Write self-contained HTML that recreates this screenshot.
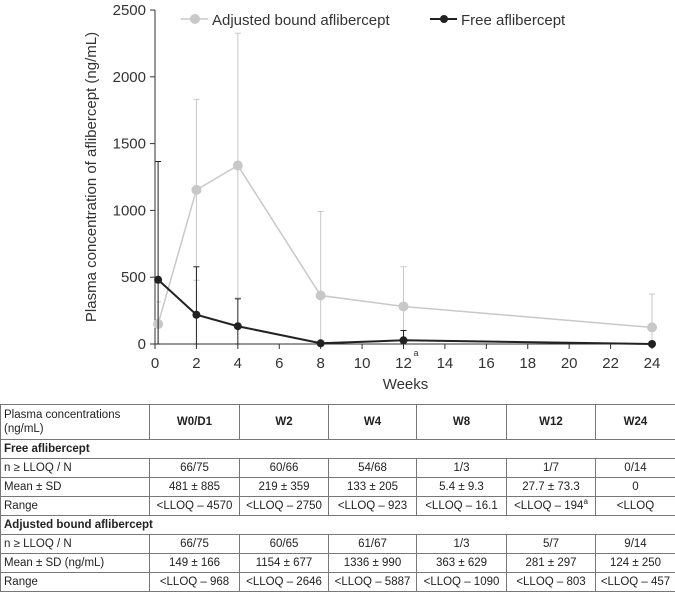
<!DOCTYPE html>
<html><head><meta charset="utf-8"><style>
body{margin:0;background:#fff;width:675px;height:594px;overflow:hidden;font-family:"Liberation Sans",sans-serif}
svg text{font-family:"Liberation Sans",sans-serif}
table{position:absolute;left:0px;top:404px;width:675px;table-layout:fixed;border-collapse:collapse;font-size:11.5px;color:#222}
td{border:1px solid #777;height:18px;line-height:14px;padding:0 2px;text-align:center;white-space:nowrap;overflow:hidden}
td.l{text-align:left;padding-left:3px}
th{border:1px solid #777;font-weight:bold;height:34px;line-height:14px;padding:0}
</style></head><body>
<svg id="chart" width="675" height="400" style="position:absolute;left:0;top:0"></svg>
<table>
<colgroup><col style="width:149px"><col style="width:90px"><col style="width:89px"><col style="width:88px"><col style="width:90px"><col style="width:89px"><col style="width:80px"></colgroup>
<tr><th style="text-align:left;font-weight:normal;padding:0 3px">Plasma concentrations<br>(ng/mL)</th><th>W0/D1</th><th>W2</th><th>W4</th><th>W8</th><th>W12</th><th>W24</th></tr>
<tr><td class="l" colspan="7"><b>Free aflibercept</b></td></tr>
<tr><td class="l">n ≥ LLOQ / N</td><td>66/75</td><td>60/66</td><td>54/68</td><td>1/3</td><td>1/7</td><td>0/14</td></tr>
<tr><td class="l">Mean ± SD</td><td>481 ± 885</td><td>219 ± 359</td><td>133 ± 205</td><td>5.4 ± 9.3</td><td>27.7 ± 73.3</td><td>0</td></tr>
<tr><td class="l">Range</td><td>&lt;LLOQ – 4570</td><td>&lt;LLOQ – 2750</td><td>&lt;LLOQ – 923</td><td>&lt;LLOQ – 16.1</td><td>&lt;LLOQ – 194<sup style="font-size:8px;line-height:0">a</sup></td><td>&lt;LLOQ</td></tr>
<tr><td class="l" colspan="7"><b>Adjusted bound aflibercept</b></td></tr>
<tr><td class="l">n ≥ LLOQ / N</td><td>66/75</td><td>60/65</td><td>61/67</td><td>1/3</td><td>5/7</td><td>9/14</td></tr>
<tr><td class="l">Mean ± SD (ng/mL)</td><td>149 ± 166</td><td>1154 ± 677</td><td>1336 ± 990</td><td>363 ± 629</td><td>281 ± 297</td><td>124 ± 250</td></tr>
<tr><td class="l">Range</td><td>&lt;LLOQ – 968</td><td>&lt;LLOQ – 2646</td><td>&lt;LLOQ – 5887</td><td>&lt;LLOQ – 1090</td><td>&lt;LLOQ – 803</td><td>&lt;LLOQ – 457</td></tr>
</table>
<script>
const weeks=[0.15,2,4,8,12,24];
const boundMean=[149,1154,1336,363,281,124];
const boundSD=[166,677,990,629,297,250];
const freeMean=[481,219,133,5.4,27.7,0];
const freeSD=[885,359,205,9.3,73.3,0];
const xTicks=[0,2,4,6,8,10,12,14,16,18,20,22,24];
const yTicks=[0,500,1000,1500,2000,2500];
const NS='http://www.w3.org/2000/svg';
const svg=document.getElementById('chart');
const x0=155,x1=652,y0=344,y1=10;
const X=v=>x0+v/24*(x1-x0);
const Y=v=>y0-v/2500*(y0-y1);
function mk(t,a,p){const e=document.createElementNS(NS,t);for(const k in a)e.setAttribute(k,a[k]);(p||svg).appendChild(e);return e;}
let ax=mk('line',{x1:x0,y1:y1,x2:x0,y2:y0,stroke:'#333','stroke-width':1});


let bx=mk('line',{x1:x0,y1:y0,x2:x1+3,y2:y0,stroke:'#333','stroke-width':1});


yTicks.forEach(v=>{mk('line',{x1:x0-5,x2:x0,y1:Y(v),y2:Y(v),stroke:'#333'});
 const t=mk('text',{x:x0-9,y:Y(v)+5,'text-anchor':'end','font-size':15,fill:'#333'});t.textContent=v;
 
 });
xTicks.forEach(v=>{mk('line',{x1:X(v),x2:X(v),y1:y0,y2:y0+5,stroke:'#333'});
 const t=mk('text',{x:X(v),y:y0+24,'text-anchor':'middle','font-size':15,fill:'#333'});t.textContent=v;
 
 });
const sup=mk('text',{x:X(12)+10,y:y0+12,'font-size':9,fill:'#333'});sup.textContent='a';


const xt=mk('text',{x:X(12)+2,y:y0+45,'text-anchor':'middle','font-size':15,fill:'#333'});xt.textContent='Weeks';


const yt=mk('text',{x:0,y:0,transform:'translate(96,177) rotate(-90)','text-anchor':'middle','font-size':15,fill:'#333'});yt.textContent='Plasma concentration of aflibercept (ng/mL)';


function series(mean,sd,col,r,name){
 const g=mk('g',{});
 
 
 mean.forEach((m,i)=>{const hi=m+sd[i],lo=Math.max(0,m-sd[i]);
  if(sd[i]>0){mk('line',{x1:X(weeks[i]),x2:X(weeks[i]),y1:Y(hi),y2:Y(lo),stroke:col,'stroke-width':1},g);
  mk('line',{x1:X(weeks[i])-3,x2:X(weeks[i])+3,y1:Y(hi),y2:Y(hi),stroke:col},g);
  mk('line',{x1:X(weeks[i])-3,x2:X(weeks[i])+3,y1:Y(lo),y2:Y(lo),stroke:col},g);}});
 mk('polyline',{points:mean.map((m,i)=>X(weeks[i])+','+Y(m)).join(' '),fill:'none',stroke:col,'stroke-width':r>4?1.5:2},g);
 mean.forEach((m,i)=>{const c=mk('circle',{cx:X(weeks[i]),cy:Y(m),r:r,fill:col},g);
  
  });
}
series(boundMean,boundSD,'#c8c8c8',5,'bound-series');
series(freeMean,freeSD,'#222',4,'free-series');
const lg=mk('g',{});


mk('line',{x1:181,x2:208,y1:19,y2:19,stroke:'#c8c8c8','stroke-width':1.5},lg);
mk('circle',{cx:195,cy:19,r:5,fill:'#c8c8c8'},lg);
let l1=mk('text',{x:212,y:25,'font-size':15,fill:'#333'},lg);l1.textContent='Adjusted bound aflibercept';
mk('line',{x1:430,x2:457,y1:19,y2:19,stroke:'#222','stroke-width':2},lg);
mk('circle',{cx:444,cy:19,r:4,fill:'#222'},lg);
let l2=mk('text',{x:461,y:25,'font-size':15,fill:'#333'},lg);l2.textContent='Free aflibercept';
</script>
</body></html>
